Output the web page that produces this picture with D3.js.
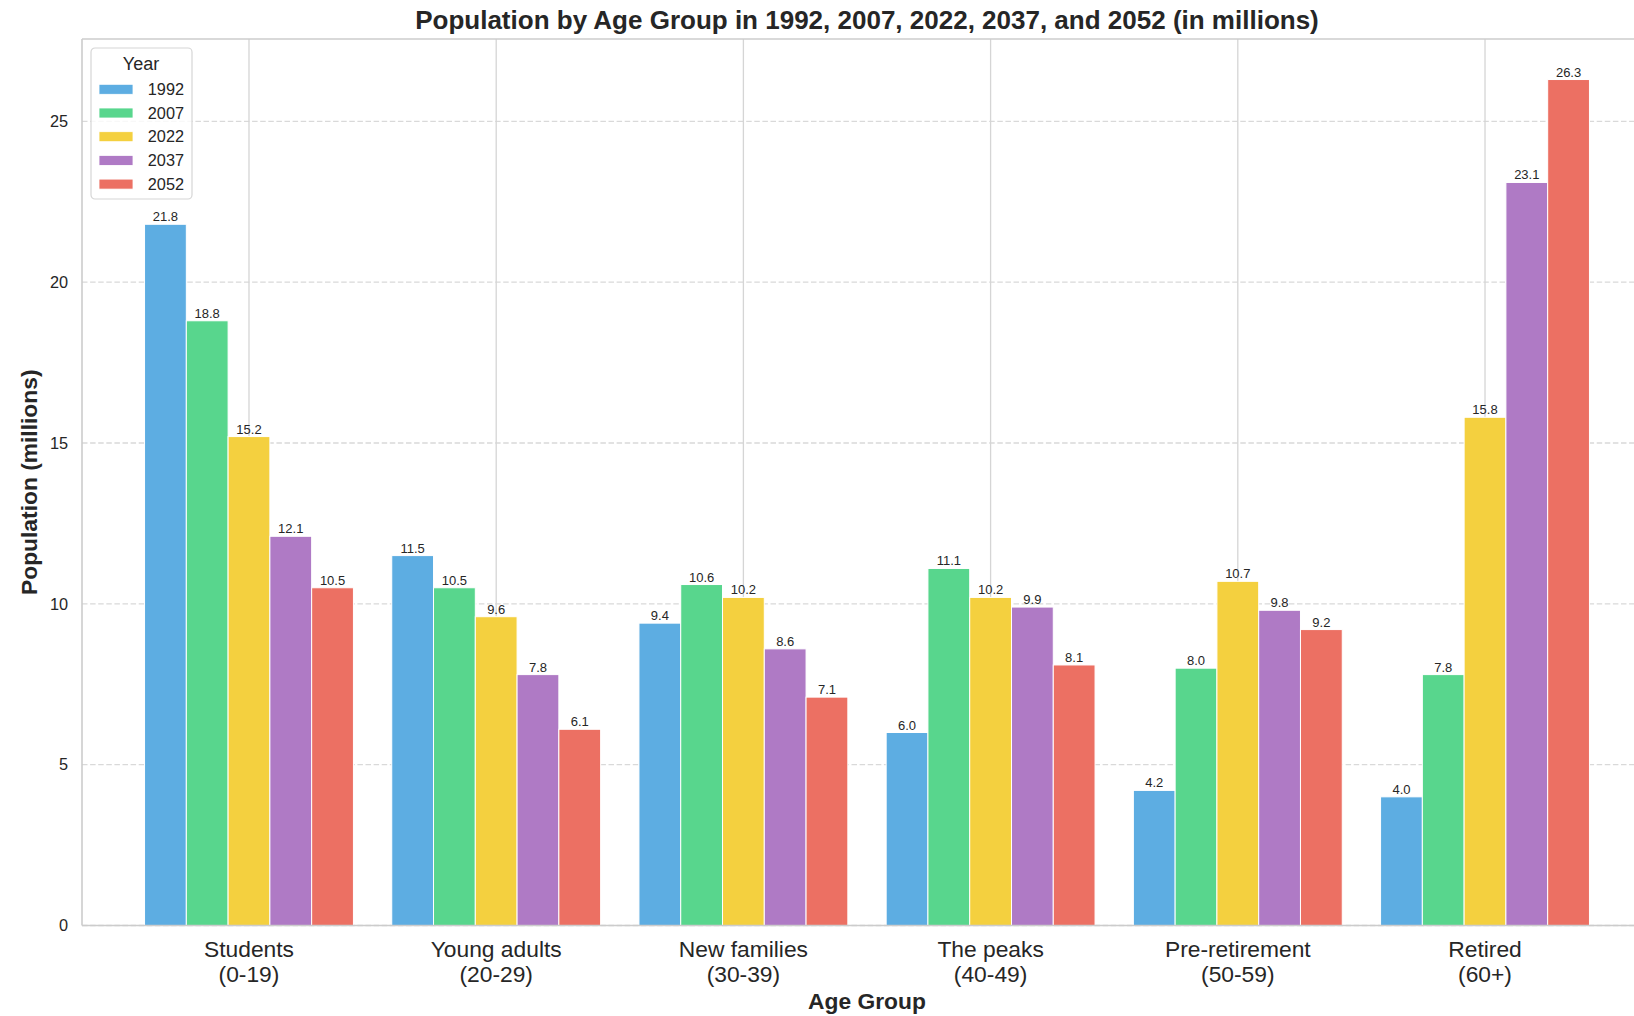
<!DOCTYPE html>
<html>
<head>
<meta charset="utf-8">
<script src="https://cdn.jsdelivr.net/npm/d3@7"></script>
<style>
  html, body { margin: 0; padding: 0; background: #ffffff; overflow: hidden; }
  svg { display: block; font-family: "Liberation Sans", Arial, sans-serif; }
</style>
</head>
<body>
<svg id="chart" width="1634" height="1016"></svg>
<script>
// Age groups (two-line tick labels)
const categories = [
  ["Students", "(0-19)"],
  ["Young adults", "(20-29)"],
  ["New families", "(30-39)"],
  ["The peaks", "(40-49)"],
  ["Pre-retirement", "(50-59)"],
  ["Retired", "(60+)"]
];

const years = ["1992", "2007", "2022", "2037", "2052"];
const colors = ["#5DADE2", "#58D68D", "#F4D03F", "#AF7AC5", "#EC7063"];

// Population in millions, one array per year, in age-group order
const pop1992 = [21.8, 11.5, 9.4, 6.0, 4.2, 4.0];
const pop2007 = [18.8, 10.5, 10.6, 11.1, 8.0, 7.8];
const pop2022 = [15.2, 9.6, 10.2, 10.2, 10.7, 15.8];
const pop2037 = [12.1, 7.8, 8.6, 9.9, 9.8, 23.1];
const pop2052 = [10.5, 6.1, 7.1, 8.1, 9.2, 26.3];
const series = [pop1992, pop2007, pop2022, pop2037, pop2052];

const yTicks = [0, 5, 10, 15, 20, 25];

const svg = d3.select("#chart");

const plot = { left: 82, right: 1652, top: 39, bottom: 925.5 };
const barW = 0.169;

const x = d3.scaleLinear().domain([-0.6755, categories.length - 1 + 0.6755]).range([plot.left, plot.right]);
const y = d3.scaleLinear().domain([0, 27.56]).range([plot.bottom, plot.top]);

const textCol = "#262626";
const gridCol = "#d5d5d5";

// horizontal dashed grid
svg.append("g").selectAll("line").data(yTicks).join("line")
  .attr("x1", plot.left).attr("x2", plot.right)
  .attr("y1", d => y(d)).attr("y2", d => y(d))
  .attr("stroke", "#d9d9d9").attr("stroke-width", 1.3)
  .attr("stroke-dasharray", "5.5,2.6");

// vertical solid grid at category centres
svg.append("g").selectAll("line").data(categories).join("line")
  .attr("x1", (d, i) => x(i)).attr("x2", (d, i) => x(i))
  .attr("y1", plot.top).attr("y2", plot.bottom)
  .attr("stroke", gridCol).attr("stroke-width", 1.3);

// bars with value labels
const bars = svg.append("g");
series.forEach((vals, j) => {
  const off = (j - (years.length - 1) / 2) * barW;
  const g = bars.append("g");
  g.selectAll("rect").data(vals).join("rect")
    .attr("x", (d, i) => x(i + off - barW / 2))
    .attr("width", x(barW) - x(0))
    .attr("y", d => y(d))
    .attr("height", d => y(0) - y(d))
    .attr("fill", colors[j])
    .attr("stroke", "#ffffff").attr("stroke-width", 1);
  g.selectAll("text").data(vals).join("text")
    .attr("x", (d, i) => x(i + off))
    .attr("y", d => y(d) - 3)
    .attr("text-anchor", "middle")
    .attr("font-size", 13)
    .attr("fill", textCol)
    .text(d => d.toFixed(1));
});

// spines (left, bottom, top)
const spine = "#cccccc";
svg.append("line").attr("x1", plot.left).attr("x2", plot.left).attr("y1", plot.top).attr("y2", plot.bottom)
  .attr("stroke", spine).attr("stroke-width", 1.6);
svg.append("line").attr("x1", plot.left).attr("x2", plot.right).attr("y1", plot.bottom).attr("y2", plot.bottom)
  .attr("stroke", spine).attr("stroke-width", 1.6);
svg.append("line").attr("x1", plot.left).attr("x2", plot.right).attr("y1", plot.top).attr("y2", plot.top)
  .attr("stroke", spine).attr("stroke-width", 1.6);

// y tick labels
svg.append("g").selectAll("text").data(yTicks).join("text")
  .attr("x", plot.left - 14)
  .attr("y", d => y(d))
  .attr("dy", "0.35em")
  .attr("text-anchor", "end")
  .attr("font-size", 16.3)
  .attr("fill", textCol)
  .text(d => d);

// x tick labels
const xt = svg.append("g").selectAll("text").data(categories).join("text")
  .attr("x", (d, i) => x(i))
  .attr("y", plot.bottom + 31.5)
  .attr("text-anchor", "middle")
  .attr("font-size", 22.8)
  .attr("fill", textCol);
xt.append("tspan").attr("x", (d, i) => x(i)).text(d => d[0]);
xt.append("tspan").attr("x", (d, i) => x(i)).attr("dy", 25).text(d => d[1]);

// title and axis labels
svg.append("text")
  .attr("x", (plot.left + plot.right) / 2).attr("y", 28.5)
  .attr("text-anchor", "middle").attr("font-size", 26).attr("font-weight", "bold")
  .attr("fill", textCol)
  .text("Population by Age Group in 1992, 2007, 2022, 2037, and 2052 (in millions)");

svg.append("text")
  .attr("x", (plot.left + plot.right) / 2).attr("y", 1009)
  .attr("text-anchor", "middle").attr("font-size", 22.8).attr("font-weight", "bold")
  .attr("fill", textCol)
  .text("Age Group");

svg.append("text")
  .attr("transform", `translate(37,${(plot.top + plot.bottom) / 2}) rotate(-90)`)
  .attr("text-anchor", "middle").attr("font-size", 22.8).attr("font-weight", "bold")
  .attr("fill", textCol)
  .text("Population (millions)");

// legend
const lg = svg.append("g").attr("transform", "translate(91,48)");
lg.append("rect").attr("width", 101).attr("height", 151).attr("rx", 4)
  .attr("fill", "#ffffff").attr("fill-opacity", 0.8)
  .attr("stroke", "#d6d6d6").attr("stroke-width", 1.2);
lg.append("text").attr("x", 50).attr("y", 21.5).attr("text-anchor", "middle")
  .attr("font-size", 18).attr("fill", textCol).text("Year");
const items = lg.selectAll("g.item").data(years).join("g").attr("class", "item")
  .attr("transform", (d, i) => `translate(0,${41.3 + i * 23.7})`);
items.append("rect").attr("x", 8).attr("y", -5).attr("width", 34).attr("height", 10)
  .attr("fill", (d, i) => colors[i]).attr("stroke", "#ffffff").attr("stroke-width", 0.8);
items.append("text").attr("x", 93).attr("y", 0).attr("dy", "0.35em")
  .attr("text-anchor", "end").attr("font-size", 16.3).attr("fill", textCol).text(d => d);
</script>
</body>
</html>
